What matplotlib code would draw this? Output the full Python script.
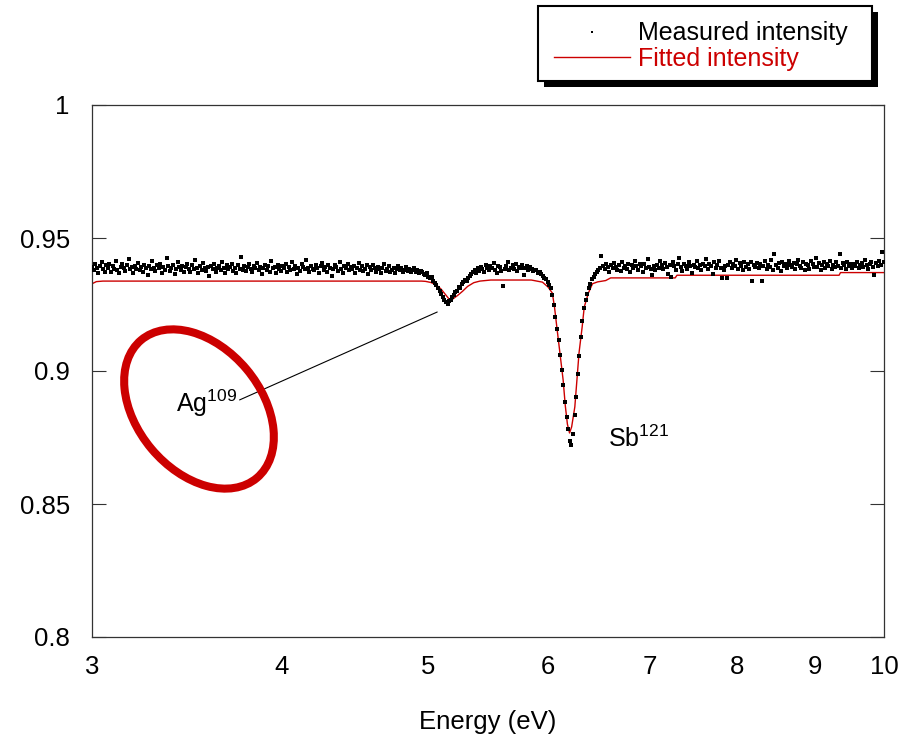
import numpy as np
import matplotlib
matplotlib.use('Agg')
import matplotlib.pyplot as plt
from matplotlib.patches import Rectangle, Ellipse
from matplotlib.lines import Line2D
from matplotlib.transforms import IdentityTransform

plt.rcParams['font.family'] = ['Liberation Sans', 'DejaVu Sans']
plt.rcParams['mathtext.fontset'] = 'custom'
plt.rcParams['mathtext.rm'] = 'Liberation Sans'
plt.rcParams['mathtext.default'] = 'regular'

# measured intensity, one value per channel (channels evenly spaced on log energy, 3 -> 10 eV)
measured = [
    0.9392, 0.9378, 0.9401, 0.9386, 0.9369, 0.9395, 0.9410, 0.9383, 0.9374, 0.9398, 0.9389, 0.9402, 0.9371, 0.9393, 0.9384, 0.9415, 0.9380, 0.9367, 0.9391, 0.9404,
    0.9387, 0.9376, 0.9399, 0.9420, 0.9382, 0.9390, 0.9368, 0.9396, 0.9385, 0.9407, 0.9379, 0.9392, 0.9373, 0.9400, 0.9388, 0.9362, 0.9395, 0.9383, 0.9412, 0.9389,
    0.9375, 0.9397, 0.9386, 0.9403, 0.9370, 0.9391, 0.9381, 0.9426, 0.9393, 0.9377, 0.9388, 0.9399, 0.9366, 0.9384, 0.9408, 0.9392, 0.9379, 0.9395, 0.9372, 0.9390,
    0.9401, 0.9385, 0.9374, 0.9398, 0.9382, 0.9417, 0.9389, 0.9369, 0.9394, 0.9380, 0.9405, 0.9387, 0.9376, 0.9391, 0.9358, 0.9396, 0.9384, 0.9402, 0.9373, 0.9388,
    0.9393, 0.9379, 0.9411, 0.9386, 0.9370, 0.9397, 0.9383, 0.9391, 0.9404, 0.9375, 0.9388, 0.9368, 0.9399, 0.9385, 0.9430, 0.9381, 0.9394, 0.9377, 0.9390, 0.9402,
    0.9384, 0.9372, 0.9396, 0.9389, 0.9407, 0.9378, 0.9392, 0.9365, 0.9387, 0.9400, 0.9381, 0.9395, 0.9374, 0.9413, 0.9386, 0.9391, 0.9369, 0.9398, 0.9383, 0.9376,
    0.9395, 0.9388, 0.9402, 0.9371, 0.9390, 0.9380, 0.9409, 0.9385, 0.9396, 0.9363, 0.9389, 0.9377, 0.9401, 0.9392, 0.9382, 0.9418, 0.9387, 0.9373, 0.9394, 0.9384,
    0.9379, 0.9399, 0.9386, 0.9368, 0.9393, 0.9405, 0.9381, 0.9390, 0.9374, 0.9397, 0.9388, 0.9357, 0.9384, 0.9400, 0.9392, 0.9376, 0.9410, 0.9385, 0.9370, 0.9395,
    0.9387, 0.9403, 0.9378, 0.9391, 0.9382, 0.9396, 0.9369, 0.9389, 0.9406, 0.9380, 0.9393, 0.9375, 0.9384, 0.9399, 0.9366, 0.9390, 0.9381, 0.9397, 0.9386, 0.9374,
    0.9392, 0.9383, 0.9370, 0.9388, 0.9401, 0.9377, 0.9385, 0.9394, 0.9372, 0.9380, 0.9389, 0.9367, 0.9383, 0.9396, 0.9378, 0.9386, 0.9374, 0.9381, 0.9390, 0.9376,
    # Ag109 dip
    0.9384, 0.9371, 0.9379, 0.9387, 0.9373, 0.9380, 0.9369, 0.9376, 0.9372, 0.9366, 0.9362, 0.9368, 0.9355, 0.9349, 0.9352, 0.9338, 0.9331, 0.9322, 0.9312, 0.9300,
    0.9291, 0.9280, 0.9268, 0.9259, 0.9252, 0.9262, 0.9266, 0.9279, 0.9284, 0.9298, 0.9302, 0.9316, 0.9312, 0.9327, 0.9333, 0.9342, 0.9339, 0.9351, 0.9358, 0.9365,
    0.9371, 0.9380, 0.9368, 0.9387, 0.9376, 0.9392, 0.9383, 0.9374, 0.9398, 0.9386, 0.9379, 0.9394, 0.9388, 0.9405, 0.9381, 0.9369, 0.9396, 0.9390, 0.9377, 0.9318,
    0.9385, 0.9393, 0.9408, 0.9379, 0.9389, 0.9397, 0.9383, 0.9402, 0.9376, 0.9391, 0.9386, 0.9399, 0.9362, 0.9388, 0.9395, 0.9380, 0.9390, 0.9384, 0.9377, 0.9381,
    # Sb121 dip
    0.9378, 0.9370, 0.9372, 0.9363, 0.9358, 0.9350, 0.9346, 0.9336, 0.9325, 0.9311, 0.9287, 0.9248, 0.9203, 0.9158, 0.9117, 0.9062, 0.9004, 0.8947, 0.8884, 0.8828,
    0.8781, 0.8738, 0.8721, 0.8762, 0.8834, 0.8903, 0.8987, 0.9058, 0.9128, 0.9188, 0.9236, 0.9267, 0.9291, 0.9312, 0.9328, 0.9344, 0.9352, 0.9365, 0.9371, 0.9380,
    0.9388, 0.9432, 0.9395, 0.9384, 0.9401, 0.9390, 0.9373, 0.9398, 0.9386, 0.9405, 0.9392, 0.9381, 0.9397, 0.9377, 0.9410, 0.9389, 0.9395, 0.9383, 0.9402, 0.9371,
    0.9399, 0.9387, 0.9412, 0.9393, 0.9380, 0.9404, 0.9396, 0.9374, 0.9401, 0.9389, 0.9421, 0.9391, 0.9383, 0.9362, 0.9395, 0.9378, 0.9400, 0.9386, 0.9414, 0.9397,
    0.9385, 0.9406, 0.9392, 0.9365, 0.9399, 0.9352, 0.9410, 0.9394, 0.9381, 0.9403, 0.9425, 0.9390, 0.9376, 0.9402, 0.9396, 0.9384, 0.9409, 0.9393, 0.9369, 0.9400,
    0.9391, 0.9412, 0.9387, 0.9399, 0.9378, 0.9404, 0.9395, 0.9420, 0.9383, 0.9401, 0.9393, 0.9366, 0.9408, 0.9389, 0.9397, 0.9415, 0.9386, 0.9350, 0.9380, 0.9396,
    0.9351, 0.9397, 0.9410, 0.9388, 0.9401, 0.9393, 0.9416, 0.9384, 0.9405, 0.9396, 0.9379, 0.9408, 0.9390, 0.9402, 0.9385, 0.9411, 0.9338, 0.9399, 0.9391, 0.9406,
    0.9387, 0.9403, 0.9337, 0.9395, 0.9412, 0.9384, 0.9400, 0.9392, 0.9418, 0.9381, 0.9440, 0.9397, 0.9389, 0.9405, 0.9376, 0.9409, 0.9394, 0.9401, 0.9386, 0.9413,
    0.9399, 0.9391, 0.9407, 0.9383, 0.9402, 0.9419, 0.9395, 0.9388, 0.9410, 0.9378, 0.9404, 0.9397, 0.9385, 0.9412, 0.9401, 0.9392, 0.9423, 0.9390, 0.9406, 0.9381,
    0.9398, 0.9409, 0.9387, 0.9403, 0.9394, 0.9415, 0.9382, 0.9400, 0.9392, 0.9411, 0.9396, 0.9440, 0.9389, 0.9405, 0.9398, 0.9384, 0.9408, 0.9393, 0.9401, 0.9387,
    0.9402, 0.9395, 0.9410, 0.9388, 0.9399, 0.9406, 0.9391, 0.9417, 0.9397, 0.9384, 0.9403, 0.9409, 0.9392, 0.9360, 0.9405, 0.9396, 0.9412, 0.9400, 0.9447, 0.9408,
]
energy = np.geomspace(3, 10, len(measured))

# fitted curve
fit_energy = [3.00, 3.02, 3.05, 4.95, 4.98, 5.02, 5.06, 5.10, 5.13, 5.16, 5.19, 5.23, 5.27, 5.31, 5.36, 5.41, 5.50,
              5.85, 5.90, 5.95, 6.00, 6.04, 6.06, 6.08, 6.11, 6.14, 6.16, 6.18, 6.20, 6.22, 6.25, 6.27, 6.29,
              6.32, 6.34, 6.38, 6.42, 6.47, 6.55, 6.60, 7.28, 7.30, 9.34, 9.36, 10.0]
fit_value = [0.9328, 0.9336, 0.9338, 0.9338, 0.9337, 0.9333, 0.9325, 0.9308, 0.9290, 0.9272, 0.9270, 0.9284, 0.9300, 0.9318, 0.9332, 0.9338, 0.9342,
             0.9342, 0.9338, 0.9334, 0.9316, 0.9293, 0.9240, 0.9170, 0.9068, 0.8966, 0.8870, 0.8800, 0.8767, 0.8790, 0.8865, 0.8966, 0.9068,
             0.9165, 0.9240, 0.9293, 0.9328, 0.9335, 0.9340, 0.9350, 0.9350, 0.9360, 0.9360, 0.9370, 0.9370]

xticks = [3, 4, 5, 6, 7, 8, 9, 10]
yticks = [0.8, 0.85, 0.9, 0.95, 1.0]
red = '#cc0000'
W, H = 923, 738

fig = plt.figure(figsize=(W / 100, H / 100), dpi=100)
ax = fig.add_axes([92 / W, 1 - 637 / H, (884 - 92) / W, (637 - 105) / H])

ax.plot(fit_energy, fit_value, color=red, lw=1.0, zorder=2)
ax.plot(energy, measured, ls='none', marker='s', ms=2.5, mfc='black', mec='black', mew=0, zorder=3)

ax.set_xscale('log')
ax.set_xlim(3, 10)
ax.set_ylim(0.8, 1.0)
ax.set_xticks(xticks)
ax.set_xticklabels([str(t) for t in xticks])
ax.xaxis.set_minor_locator(matplotlib.ticker.NullLocator())
ax.set_yticks(yticks)
ax.set_yticklabels(['%g' % t for t in yticks])
ax.tick_params(axis='y', direction='in', length=10, width=0.8, color='#333333',
               right=True, labelsize=18.5, pad=16)
ax.tick_params(axis='x', length=0, labelsize=18.5, pad=13)
for s in ax.spines.values():
    s.set_color('#333333')
    s.set_linewidth(0.9)
ax.set_xlabel('Energy (eV)', fontsize=18.5, labelpad=22)

# annotations
ax.text(6.57, 0.8714, 'Sb$^{121}$', fontsize=18, ha='left', va='baseline')
ax.text(3.41, 0.8846, 'Ag$^{109}$', fontsize=18, ha='left', va='baseline')
ax.annotate('', xy=(5.09, 0.9226), xytext=(3.74, 0.8887),
            arrowprops=dict(arrowstyle='-', color='black', lw=0.8))
fig.add_artist(Ellipse((199, H - 409), 180, 124, angle=-50, transform=IdentityTransform(),
                       fill=False, ec=red, lw=5.8, zorder=5))

# gnuplot-style legend box with shadow, outside the plot
ft = fig.transFigure
fig.add_artist(Rectangle((544 / W, 1 - 87 / H), 334 / W, 75 / H, transform=ft, fc='black', ec='black', lw=0))
fig.add_artist(Rectangle((538 / W, 1 - 81 / H), 334 / W, 75 / H, transform=ft, fc='white', ec='black', lw=1.5))
fig.add_artist(Line2D([592 / W], [1 - 32 / H], transform=ft, ls='none', marker='s', ms=2.0, mfc='black', mew=0))
fig.add_artist(Line2D([554 / W, 630 / W], [1 - 57 / H, 1 - 57 / H], transform=ft, color=red, lw=1.0))
fig.text(638 / W, 1 - 40 / H, 'Measured intensity', fontsize=18, color='black', va='baseline')
fig.text(638 / W, 1 - 66 / H, 'Fitted intensity', fontsize=18, color=red, va='baseline')

fig.savefig('out.png', dpi=100)
